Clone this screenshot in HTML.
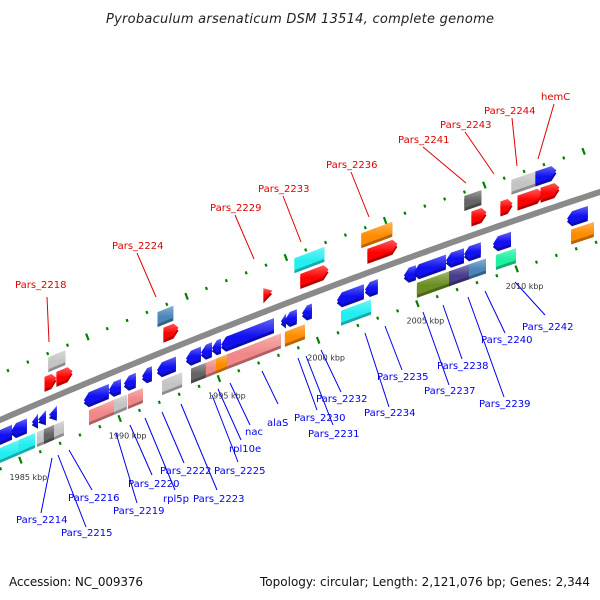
<!DOCTYPE html>
<html><head><meta charset="utf-8"><style>
html,body{margin:0;padding:0;background:#fff;}
svg{display:block;}
text{font-family:"DejaVu Sans","Liberation Sans",sans-serif;}
</style></head><body>
<svg id="map" width="600" height="600" viewBox="0 0 600 600">
<defs>
<linearGradient id="hl" x1="0" y1="0" x2="0" y2="1"><stop offset="0" stop-color="#fff" stop-opacity="0.35"/><stop offset="0.6" stop-color="#fff" stop-opacity="0"/></linearGradient>
</defs>
<text x="300" y="23" text-anchor="middle" font-size="13" font-style="italic" fill="#222" textLength="388">Pyrobaculum arsenaticum DSM 13514, complete genome</text>
<g id="dots"></g>
<path id="backbone" fill="none" stroke="#8a8a8a" stroke-width="6"></path>
<g id="genes"></g>
<g id="ticklabels"></g>
<g font-size="10" fill="#e00000" stroke-width="1">
<line x1="47" y1="297" x2="49" y2="342" stroke="#e00000"/><text x="15" y="288">Pars_2218</text>
<line x1="137" y1="253" x2="156" y2="297" stroke="#e00000"/><text x="112" y="249">Pars_2224</text>
<line x1="235" y1="215" x2="254" y2="259" stroke="#e00000"/><text x="210" y="211">Pars_2229</text>
<line x1="283" y1="196" x2="301" y2="242" stroke="#e00000"/><text x="258" y="192">Pars_2233</text>
<line x1="351" y1="172" x2="369" y2="217" stroke="#e00000"/><text x="326" y="168">Pars_2236</text>
<line x1="423" y1="147" x2="466" y2="183" stroke="#e00000"/><text x="398" y="143">Pars_2241</text>
<line x1="465" y1="132" x2="494" y2="174" stroke="#e00000"/><text x="440" y="128">Pars_2243</text>
<line x1="512" y1="118" x2="517" y2="166" stroke="#e00000"/><text x="484" y="114">Pars_2244</text>
<line x1="554" y1="104" x2="538" y2="159" stroke="#e00000"/><text x="541" y="100">hemC</text>
</g>
<g font-size="10" fill="#0000ee">
<g stroke="#0000ee" stroke-width="1">
<line x1="52" y1="458" x2="41" y2="513"/><line x1="58" y1="455" x2="86" y2="527"/><line x1="69" y1="450" x2="92" y2="490"/>
<line x1="116" y1="433" x2="137" y2="503"/><line x1="130" y1="425" x2="152" y2="475"/><line x1="145" y1="418" x2="175" y2="490"/>
<line x1="162" y1="412" x2="184" y2="463"/><line x1="181" y1="404" x2="217" y2="490"/><line x1="212" y1="395" x2="238" y2="462"/>
<line x1="218" y1="389" x2="241" y2="440"/><line x1="230" y1="383" x2="250" y2="425"/><line x1="262" y1="371" x2="278" y2="404"/>
<line x1="298" y1="358" x2="317" y2="410"/><line x1="306" y1="356" x2="333" y2="425"/><line x1="321" y1="350" x2="341" y2="392"/>
<line x1="365" y1="333" x2="389" y2="407"/><line x1="385" y1="326" x2="402" y2="370"/><line x1="423" y1="312" x2="449" y2="385"/>
<line x1="443" y1="305" x2="462" y2="359"/><line x1="468" y1="297" x2="504" y2="397"/><line x1="485" y1="291" x2="505" y2="333"/>
<line x1="515" y1="282" x2="545" y2="315"/>
</g>
<text x="16" y="523">Pars_2214</text><text x="61" y="536">Pars_2215</text><text x="68" y="501">Pars_2216</text>
<text x="113" y="514">Pars_2219</text><text x="128" y="487">Pars_2220</text><text x="163" y="502">rpl5p</text>
<text x="160" y="474">Pars_2222</text><text x="193" y="502">Pars_2223</text><text x="214" y="474">Pars_2225</text>
<text x="229" y="452">rpl10e</text><text x="245" y="435">nac</text><text x="267" y="426">alaS</text>
<text x="294" y="421">Pars_2230</text><text x="308" y="437">Pars_2231</text><text x="316" y="402">Pars_2232</text>
<text x="364" y="416">Pars_2234</text><text x="377" y="380">Pars_2235</text><text x="424" y="394">Pars_2237</text>
<text x="437" y="369">Pars_2238</text><text x="479" y="407">Pars_2239</text><text x="481" y="343">Pars_2240</text>
<text x="522" y="330">Pars_2242</text>
</g>
<text x="9" y="586" font-size="12" fill="#111" textLength="134">Accession: NC_009376</text>
<text x="590" y="586" font-size="12" fill="#111" text-anchor="end" textLength="330">Topology: circular; Length: 2,121,076 bp; Genes: 2,344</text>
</svg>
<script>
const tickKbp = [1985, 1990, 1995, 2000, 2005, 2010];
const geneStart = [1987.86,1993.36,2000.26,2003.63,2008.82,2011.19,2012.40,
 1987.36,1987.96,1993.35,1998.39,2000.25,2003.63,2008.87,2010.33,2011.19,2012.35,
 1984.3,1985.09,1986.14,1986.45,1987.0,1988.76,1990.02,1990.78,1991.69,1992.44,1993.90,1994.66,1995.21,1995.67,1998.69,1998.89,1999.75,2001.51,2002.92,2004.88,2005.39,2007.0,2007.91,2009.37,2013.10,
 1984.0,1985.18,1986.09,1986.44,1986.95,1988.71,1989.97,1990.67,1992.39,1993.85,1994.60,1995.11,1995.66,1998.58,2001.41,2005.23,2006.85,2007.85,2009.21,2013.0];
const geneEnd = [1988.72,1994.16,2001.77,2005.19,2009.68,2012.55,2013.46,
 1987.96,1988.77,1994.11,1998.84,2001.67,2005.14,2009.63,2010.94,2012.45,2013.30,
 1985.14,1985.89,1986.45,1986.85,1987.40,1990.02,1990.63,1991.38,1992.19,1993.40,1994.66,1995.21,1995.67,1998.34,1998.94,1999.49,2000.25,2002.87,2003.57,2005.49,2007.0,2007.91,2008.76,2010.28,2014.15,
 1985.18,1985.99,1986.44,1986.95,1987.45,1990.07,1990.62,1991.43,1993.40,1994.60,1995.11,1995.66,1998.38,1999.59,2002.92,2006.95,2007.95,2008.71,2010.22,2014.15];
const geneTrack = ["A2","A2","A2","A2","A2","A2","A2",
 "A1","A1","A1","A1","A1","A1","A1","A1","A1","A1",
 "B1","B1","B1","B1","B1","B1","B1","B1","B1","B1","B1","B1","B1","B1","B1","B1","B1","B1","B1","B1","B1","B1","B1","B1","B1",
 "B2","B2","B2","B2","B2","B2","B2","B2","B2","B2","B2","B2","B2","B2","B2","B2","B2","B2","B2","B2"];
const geneKind = ["gray","steel","cyan","orange","dgray","gray","blueR",
 "red","red","red","red","red","red","red","red","red","red",
 "blue","blue","blue","blue","blue","blue","blue","blue","blue","blue","blue","blue","blue","blue","blue","blue","blue","blue","blue","blue","blue","blue","blue","blue","blue",
 "cyan","cyan","gray","dgray","gray","pink","gray","pink","gray","dgray","pink","orange","pink","orange","cyan","olive","slate","steel","spring","orange"];

const NS="http://www.w3.org/2000/svg";
const COL={gray:"#c4c4c4",steel:"#4a86b8",cyan:"#22eef0",orange:"#ff8c00",dgray:"#646464",blueR:"#1010f0",red:"#ff0000",blue:"#1010f0",pink:"#f08888",olive:"#6b8e23",slate:"#483d8b",spring:"#20f0a0"};
const TRK={A2:-36,A1:-18,B1:16,B2:34};
function lineY(x){return 420-0.4324*x+8.73e-5*x*x;}
function xAt(k,dy){return 103+(k-1990)*19.85+dy*0.34;}
function shade(c,f){const n=parseInt(c.slice(1),16);let r=(n>>16)*f,g=((n>>8)&255)*f,b=(n&255)*f;return "rgb("+Math.round(r)+","+Math.round(g)+","+Math.round(b)+")";}

let d="";for(let x=-5;x<=605;x+=5){d+=(x===-5?"M":"L")+x+","+lineY(x).toFixed(2);}
document.getElementById("backbone").setAttribute("d",d);

const dots=document.getElementById("dots");
for(let k=1983;k<=2016;k++){
  [-46,49].forEach(function(dy){
    const x=xAt(k,dy), y=lineY(x)+dy;
    const big=(k%5===0), L=big?3.5:1.5;
    const ln=document.createElementNS(NS,"line");
    ln.setAttribute("x1",x-0.35*L);ln.setAttribute("y1",y-0.94*L);
    ln.setAttribute("x2",x+0.35*L);ln.setAttribute("y2",y+0.94*L);
    ln.setAttribute("stroke","#008000");ln.setAttribute("stroke-width",2.2);
    
    
    dots.appendChild(ln);
  });
}
const tl=document.getElementById("ticklabels");
tickKbp.forEach(function(k){
  const x=xAt(k,49)+8, y=lineY(xAt(k,49))+49+20;
  const t=document.createElementNS(NS,"text");
  t.setAttribute("x",x);t.setAttribute("y",y);t.setAttribute("text-anchor","middle");
  t.setAttribute("font-size","8");t.setAttribute("fill","#333");
  t.textContent=k+" kbp";
  
  
  tl.appendChild(t);
});

const gg=document.getElementById("genes");
const H=12, SH=3;
function shapePts(x1,x2,dy,kind,off){
  const t1=lineY(x1)+dy-H/2+off, t2=lineY(x2)+dy-H/2+off;
  const w=x2-x1, p=Math.min(5,w*0.7);
  if(kind==="blue"){
    const xm=x1+p, tm=lineY(xm)+dy-H/2+off;
    if(w<9) return [[x1,(t1+H/2)],[x2,t2],[x2,t2+H]];
    return [[x1,t1+H/2],[xm,tm],[x2,t2],[x2,t2+H],[xm,tm+H]];
  }
  if(kind==="red"||kind==="blueR"){
    const xm=x2-p, tm=lineY(xm)+dy-H/2+off;
    if(w<9) return [[x1,t1],[x2,t2+H/2],[x1,t1+H]];
    return [[x1,t1],[xm,tm],[x2,t2+H/2],[xm,tm+H],[x1,t1+H]];
  }
  return [[x1,t1],[x2,t2],[x2,t2+H],[x1,t1+H]];
}
for(let i=0;i<geneStart.length;i++){
  const dy=TRK[geneTrack[i]];
  const x1=xAt(geneStart[i],dy), x2=xAt(geneEnd[i],dy);
  const kind=geneKind[i], c=COL[kind];
  const g=document.createElementNS(NS,"g");
  
  
  const s=shapePts(x1,x2,dy,kind,SH);
  const p0=document.createElementNS(NS,"polygon");
  p0.setAttribute("points",s.map(q=>q[0].toFixed(1)+","+q[1].toFixed(1)).join(" "));
  p0.setAttribute("fill",shade(c,0.72));
  g.appendChild(p0);
  const m=shapePts(x1,x2,dy,kind,0);
  const p1=document.createElementNS(NS,"polygon");
  p1.setAttribute("points",m.map(q=>q[0].toFixed(1)+","+q[1].toFixed(1)).join(" "));
  p1.setAttribute("fill",c);
  g.appendChild(p1);
  const p2=document.createElementNS(NS,"polygon");
  p2.setAttribute("points",m.map(q=>q[0].toFixed(1)+","+q[1].toFixed(1)).join(" "));
  p2.setAttribute("fill","url(#hl)");
  g.appendChild(p2);
  gg.appendChild(g);
}
</script>
</body></html>
